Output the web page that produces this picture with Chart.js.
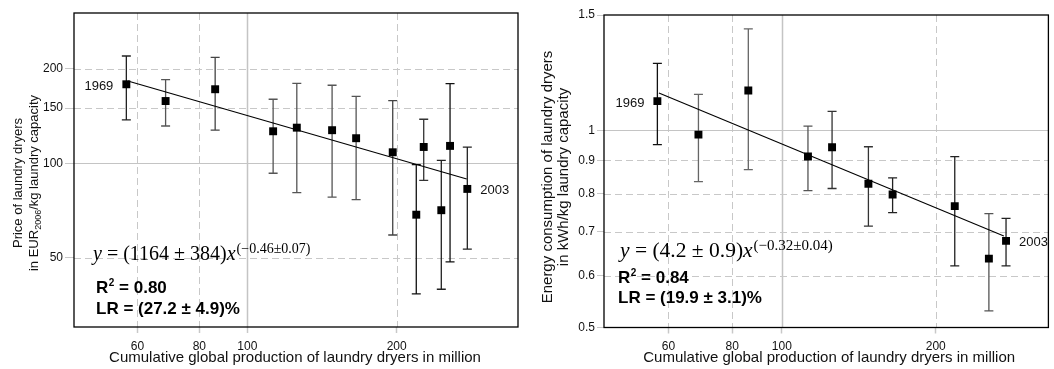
<!DOCTYPE html>
<html><head><meta charset="utf-8">
<script src="https://cdn.jsdelivr.net/npm/chart.js@4.4.0/dist/chart.umd.min.js"></script>
<style>
html,body{margin:0;padding:0;background:#fff;}
#wrap{position:relative;width:1054px;height:369px;overflow:hidden;}
.box{position:absolute;top:0;height:369px;}
#b1{left:0;width:530px;} #b2{left:530px;width:524px;}
</style></head><body>
<div id="wrap"><div class="box" id="b1"><canvas id="c1"></canvas></div><div class="box" id="b2"><canvas id="c2"></canvas></div></div>
<script>
// ---------- data ----------
const xTicks = [60, 80, 100, 200];

const priceX    = [57.0, 68.4, 86.1, 112.7, 125.8, 148.2, 165.7, 196.4, 219.1, 226.8, 246.1, 256.3, 277.7];
const priceY    = [178.7, 158.0, 172.3, 126.5, 129.9, 127.5, 120.2, 108.4, 68.5, 112.7, 70.8, 113.6, 82.8];
const priceHigh = [220, 184.9, 217.9, 160.1, 180, 177.4, 163.6, 158.4, 99.0, 138.2, 102.2, 179.5, 112.5];
const priceLow  = [137.5, 131.5, 127.5, 92.9, 80.6, 78.0, 76.5, 59.0, 38.3, 88.2, 39.6, 48.4, 53.2];
const priceFitX = [57.4, 276.9];
const priceFitY = [183, 89.1];
const priceYTicks = [50, 100, 150, 200];

const energyX    = [57.1, 68.7, 86.0, 112.5, 125.4, 147.7, 164.7, 217.9, 254.1, 274.5];
const energyY    = [1.108, 0.985, 1.150, 0.912, 0.942, 0.829, 0.798, 0.766, 0.637, 0.678];
const energyHigh = [1.265, 1.135, 1.429, 1.015, 1.069, 0.944, 0.846, 0.912, 0.746, 0.734];
const energyLow  = [0.951, 0.835, 0.871, 0.809, 0.815, 0.714, 0.749, 0.621, 0.530, 0.621];
const energyFitX = [57.5, 271.8];
const energyFitY = [1.14, 0.69];
const energyYTicks = [0.5, 0.6, 0.7, 0.8, 0.9, 1, 1.5];

const firstYearLabel = '1969';
const lastYearLabel = '2003';
const xTitle = 'Cumulative global production of laundry dryers in million';

// ---------- styles ----------
const SANS = "'Liberation Sans', Arial, Helvetica, sans-serif";
const SERIF = "'Liberation Serif', 'Times New Roman', serif";
Chart.defaults.font.family = SANS;
const priceErrColors = ['#222','#555','#444','#555','#555','#555','#555','#444','#111','#333','#222','#111','#222'];
const energyErrColors = ['#111','#666','#666','#555','#333','#333','#222','#222','#555','#222'];
const GRID = '#c8c8c8';

function pts(xs, ys) { return xs.map((v, i) => ({x: v, y: ys[i]})); }

function makeChart(id, c) {
  const plugin = {
    id: 'custom_' + id,
    beforeDatasetsDraw(chart) {
      const {ctx, chartArea: a, scales: {x, y}} = chart;
      ctx.save();
      ctx.beginPath(); ctx.rect(a.left, a.top, a.right - a.left, a.bottom - a.top); ctx.clip();
      c.gridX.forEach(v => {
        const px = Math.round(x.getPixelForValue(v)) + 0.5;
        ctx.beginPath();
        if (v === 100) { ctx.setLineDash([]); ctx.lineWidth = 1.5; ctx.strokeStyle = '#c4c4c4'; }
        else { ctx.setLineDash([7, 4]); ctx.lineWidth = 1; ctx.strokeStyle = GRID; }
        ctx.moveTo(px, a.top); ctx.lineTo(px, a.bottom); ctx.stroke();
      });
      c.gridY.forEach(v => {
        const py = Math.round(y.getPixelForValue(v)) + 0.5;
        ctx.beginPath();
        if (v === c.solidY) { ctx.setLineDash([]); ctx.lineWidth = 1; ctx.strokeStyle = '#c4c4c4'; }
        else { ctx.setLineDash([7, 4]); ctx.lineWidth = 1; ctx.strokeStyle = GRID; }
        ctx.moveTo(a.left, py); ctx.lineTo(a.right, py); ctx.stroke();
      });
      ctx.restore();
      // error bars
      ctx.save();
      ctx.setLineDash([]);
      ctx.lineWidth = 1.3;
      c.xs.forEach((v, i) => {
        const px = x.getPixelForValue(v);
        const ph = y.getPixelForValue(c.hi[i]);
        const pl = y.getPixelForValue(c.lo[i]);
        ctx.strokeStyle = c.errColors[i];
        ctx.beginPath();
        ctx.moveTo(px, ph); ctx.lineTo(px, pl);
        ctx.moveTo(px - 4.5, ph); ctx.lineTo(px + 4.5, ph);
        ctx.moveTo(px - 4.5, pl); ctx.lineTo(px + 4.5, pl);
        ctx.stroke();
      });
      ctx.restore();
    },
    afterDraw(chart) {
      const {ctx, chartArea: a, scales: {x, y}} = chart;
      ctx.save();
      // frame
      ctx.strokeStyle = '#000'; ctx.lineWidth = 1.3; ctx.setLineDash([]);
      ctx.strokeRect(a.left, a.top, a.right - a.left, a.bottom - a.top);
      ctx.fillStyle = '#111';
      // year labels
      ctx.font = '13px ' + SANS;
      ctx.textBaseline = 'middle';
      const n = c.xs.length - 1;
      ctx.textAlign = 'right';
      ctx.fillText(firstYearLabel, x.getPixelForValue(c.xs[0]) - 13, y.getPixelForValue(c.ys[0]) + 2);
      ctx.textAlign = 'left';
      ctx.fillText(lastYearLabel, x.getPixelForValue(c.xs[n]) + 13, y.getPixelForValue(c.ys[n]) + 2);
      // x title
      ctx.font = '15px ' + SANS;
      ctx.textAlign = 'center'; ctx.textBaseline = 'alphabetic';
      ctx.fillText(xTitle, (a.left + a.right) / 2 + c.xTitleShift, 362);
      // y title
      ctx.save();
      ctx.translate(0, c.titleCenter);
      ctx.rotate(-Math.PI / 2);
      ctx.textAlign = 'left';
      const fs = c.yTitleSize, ss = Math.round(fs * 0.7);
      c.yTitle.forEach((parts, li) => {
        let total = 0;
        parts.forEach(p => { ctx.font = (p.sub ? ss : fs) + 'px ' + SANS; total += ctx.measureText(p.t).width; });
        let tx = -total / 2;
        const base = li === 0 ? 22 : 37.5;
        parts.forEach(p => {
          ctx.font = (p.sub ? ss : fs) + 'px ' + SANS;
          ctx.fillText(p.t, tx, base + (p.sub ? 3 : 0));
          tx += ctx.measureText(p.t).width;
        });
      });
      ctx.restore();
      // equation
      ctx.textAlign = 'left'; ctx.textBaseline = 'alphabetic';
      ctx.fillStyle = '#000';
      let ex = c.eq.x;
      const eb = c.eq.y, ef = c.eq.size;
      ctx.font = 'italic ' + ef + 'px ' + SERIF; ctx.fillText('y', ex, eb); ex += ctx.measureText('y').width;
      ctx.font = ef + 'px ' + SERIF;
      const mid = ' = (' + c.eq.coef + ')';
      ctx.fillText(mid, ex, eb); ex += ctx.measureText(mid).width;
      ctx.font = 'italic ' + ef + 'px ' + SERIF; ctx.fillText('x', ex, eb); ex += ctx.measureText('x').width + 1;
      ctx.font = Math.round(ef * 0.7) + 'px ' + SERIF; ctx.fillText(c.eq.exp, ex, eb - 7);
      // stats
      let sx = c.st.x;
      ctx.font = 'bold 17px ' + SANS;
      ctx.fillText('R', sx, c.st.y1); sx += ctx.measureText('R').width + 0.5;
      ctx.font = 'bold 10px ' + SANS;
      ctx.fillText('2', sx, c.st.y1 - 7); sx += ctx.measureText('2').width;
      ctx.font = 'bold 17px ' + SANS;
      ctx.fillText(' = ' + c.st.r2, sx, c.st.y1);
      ctx.fillText('LR = (' + c.st.lr + ')%', c.st.x, c.st.y2);
      ctx.restore();
    }
  };

  const tickFn = (vals) => (s) => { s.ticks = vals.map(v => ({value: v})); };
  return new Chart(document.getElementById(id), {
    type: 'scatter',
    data: {
      datasets: [
        { data: pts(c.xs, c.ys), pointStyle: 'rect', pointRadius: 5.6, pointHoverRadius: 5.6,
          backgroundColor: '#000', borderColor: '#000', borderWidth: 0, order: 0 },
        { type: 'line', data: pts(c.fitX, c.fitY), borderColor: '#000', borderWidth: 1.1,
          pointRadius: 0, fill: false, order: 1 }
      ]
    },
    options: {
      responsive: true, maintainAspectRatio: false, animation: false,
      devicePixelRatio: 1,
      layout: { padding: c.padding },
      plugins: { legend: { display: false }, tooltip: { enabled: false } },
      scales: {
        x: {
          type: 'logarithmic', min: c.xMin, max: c.xMax,
          afterBuildTicks: tickFn(xTicks),
          afterFit: (s) => { s.height = c.xAxisH; },
          grid: { display: true, drawOnChartArea: false, drawTicks: true, tickLength: 6, tickColor: GRID, tickWidth: 1.5 },
          border: { display: false },
          ticks: { autoSkip: false, maxRotation: 0, padding: 6, color: '#111', font: { size: 12, family: SANS },
                   callback: (v) => String(v) }
        },
        y: {
          type: 'logarithmic', min: c.yMin, max: c.yMax,
          afterBuildTicks: tickFn(c.yTicks),
          afterFit: (s) => { s.width = 74; },
          grid: { display: true, drawOnChartArea: false, drawTicks: true, tickLength: c.yTickLen, tickColor: GRID, tickWidth: 1 },
          border: { display: false },
          ticks: { autoSkip: false, padding: 2, color: '#111', font: { size: 12, family: SANS },
                   callback: (v) => String(v) }
        }
      }
    },
    plugins: [plugin]
  });
}

makeChart('c1', {
  xs: priceX, ys: priceY, hi: priceHigh, lo: priceLow, fitX: priceFitX, fitY: priceFitY,
  errColors: priceErrColors, yTicks: priceYTicks,
  gridX: xTicks, gridY: priceYTicks, solidY: 100,
  xMin: 44.7, xMax: 351.4, yMin: 30, yMax: 301.8,
  padding: { top: 13, right: 12, left: 0, bottom: 0 }, xAxisH: 42, yTickLen: 9,
  titleCenter: 183, yTitleSize: 13, xTitleShift: -1,
  yTitle: [[{t: 'Price of laundry dryers'}], [{t: 'in EUR'}, {t: '2006', sub: true}, {t: '/kg laundry capacity'}]],
  eq: { x: 93, y: 260, size: 20, coef: '1164 ± 384', exp: '(−0.46±0.07)' },
  st: { x: 96, y1: 293, y2: 314, r2: '0.80', lr: '27.2 ± 4.9' }
});

makeChart('c2', {
  xs: energyX, ys: energyY, hi: energyHigh, lo: energyLow, fitX: energyFitX, fitY: energyFitY,
  errColors: energyErrColors, yTicks: energyYTicks,
  gridX: xTicks, gridY: [0.6, 0.7, 0.8, 0.9, 1], solidY: 1,
  xMin: 44.9, xMax: 332.2, yMin: 0.5, yMax: 1.5,
  padding: { top: 15, right: 2, left: 0, bottom: 0 }, xAxisH: 41.5, yTickLen: 7,
  titleCenter: 177, yTitleSize: 15, xTitleShift: 3,
  yTitle: [[{t: 'Energy consumption of laundry dryers'}], [{t: 'in kWh/kg laundry capacity'}]],
  eq: { x: 90, y: 257, size: 21.5, coef: '4.2 ± 0.9', exp: '(−0.32±0.04)' },
  st: { x: 88, y1: 283, y2: 303, r2: '0.84', lr: '19.9 ± 3.1' }
});
</script>
</body></html>
